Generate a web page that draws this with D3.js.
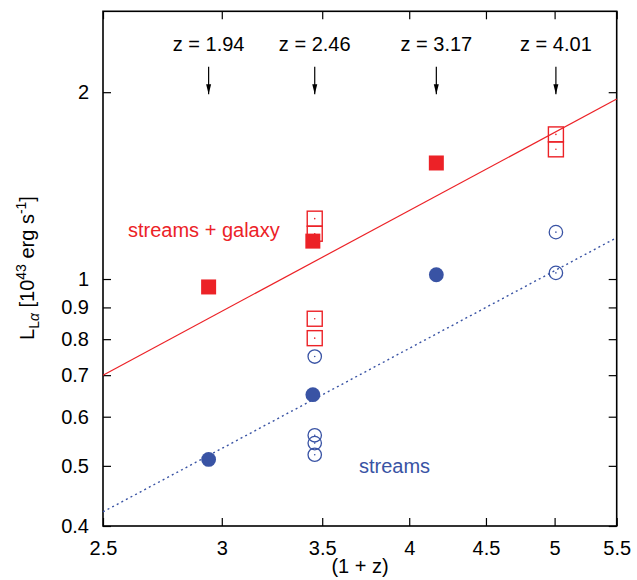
<!DOCTYPE html>
<html>
<head>
<meta charset="utf-8">
<script src="https://cdn.jsdelivr.net/npm/d3@7"></script>
<style>
  html, body { margin: 0; padding: 0; background: #fff; overflow: hidden; }
  svg { display: block; }
  text { font-family: "Liberation Sans", Arial, sans-serif; }
</style>
</head>
<body>
<div id="chart"></div>
<script>
// Data
const xTicks = [2.5, 3, 3.5, 4, 4.5, 5, 5.5];
const yTicks = [0.4, 0.5, 0.6, 0.7, 0.8, 0.9, 1, 2];
const redshifts = [1.94, 2.46, 3.17, 4.01];

const galaxyFilledX = [2.94, 3.45, 4.17];
const galaxyFilledY = [0.971, 1.151, 1.538];
const galaxyOpenX = [3.46, 3.46, 3.46, 3.46, 5.01, 5.01];
const galaxyOpenY = [1.251, 1.183, 0.863, 0.803, 1.710, 1.618];

const streamsFilledX = [2.94, 3.45, 4.17];
const streamsFilledY = [0.512, 0.651, 1.016];
const streamsOpenX = [3.46, 3.46, 3.46, 3.46, 5.01, 5.01];
const streamsOpenY = [0.750, 0.560, 0.544, 0.521, 1.190, 1.023];

const fitX = [2.5, 5.5];
const galaxyFitY = [0.70, 1.95];
const streamsFitY = [0.4215, 1.166];

const red = "#ec2227";
const blue = "#3953a4";

const width = 637, height = 580;
const margin = {top: 11.3, right: 20.3, bottom: 54, left: 103};
const innerWidth = width - margin.left - margin.right;
const innerHeight = height - margin.top - margin.bottom;

const svg = d3.select("#chart")
  .append("svg")
    .attr("width", width)
    .attr("height", height);

const inner = svg.append("g")
  .attr("transform", `translate(${margin.left}, ${margin.top})`);

// Scales (log-log)
const xScale = d3.scaleLog().domain([2.5, 5.5]).range([0, innerWidth]);
const yScale = d3.scaleLog().domain([0.4, 2.7]).range([innerHeight, 0]);

// Axes, ticks pointing inward, mirrored on top and right
const fmt = d => d3.format("~g")(d);
const bottomAxis = d3.axisBottom(xScale).tickValues(xTicks).tickFormat(fmt)
  .tickSize(-8).tickPadding(15);
const topAxis = d3.axisTop(xScale).tickValues(xTicks).tickFormat("").tickSize(-8);
const leftAxis = d3.axisLeft(yScale).tickValues(yTicks).tickFormat(fmt)
  .tickSize(-8).tickPadding(14);
const rightAxis = d3.axisRight(yScale).tickValues(yTicks).tickFormat("").tickSize(-8);

inner.append("g").attr("class", "axis").attr("transform", `translate(0, ${innerHeight})`).call(bottomAxis);
inner.append("g").attr("class", "axis").call(topAxis);
inner.append("g").attr("class", "axis").call(leftAxis);
inner.append("g").attr("class", "axis").attr("transform", `translate(${innerWidth}, 0)`).call(rightAxis);

inner.selectAll(".axis .domain").remove();
inner.selectAll(".axis line").attr("stroke", "#000").attr("stroke-width", 1.2);
inner.selectAll(".axis text")
  .attr("font-size", 20)
  .attr("fill", "#000")
  .attr("font-family", "Liberation Sans, Arial, sans-serif");

// Frame
inner.append("rect")
  .attr("width", innerWidth)
  .attr("height", innerHeight)
  .attr("fill", "none")
  .attr("stroke", "#000")
  .attr("stroke-width", 1.6);

// Fit lines
const line = d3.line().x(d => xScale(d[0])).y(d => yScale(d[1]));
inner.append("path")
  .datum(d3.zip(fitX, galaxyFitY))
  .attr("d", line)
  .attr("fill", "none")
  .attr("stroke", red)
  .attr("stroke-width", 1.2);
inner.append("path")
  .datum(d3.zip(fitX, streamsFitY))
  .attr("d", line)
  .attr("fill", "none")
  .attr("stroke", blue)
  .attr("stroke-width", 1.4)
  .attr("stroke-dasharray", "2,3.2");

// Markers
const sq = 15, rad = 7.4;

// open squares
const galaxyOpen = d3.zip(galaxyOpenX, galaxyOpenY);
inner.selectAll(".sq-open")
  .data(galaxyOpen)
  .join("rect")
    .attr("class", "sq-open")
    .attr("x", d => xScale(d[0]) - sq / 2)
    .attr("y", d => yScale(d[1]) - sq / 2)
    .attr("width", sq)
    .attr("height", sq)
    .attr("fill", "none")
    .attr("stroke", red)
    .attr("stroke-width", 1.4);

// open circles
const streamsOpen = d3.zip(streamsOpenX, streamsOpenY);
inner.selectAll(".ci-open")
  .data(streamsOpen)
  .join("circle")
    .attr("class", "ci-open")
    .attr("cx", d => xScale(d[0]))
    .attr("cy", d => yScale(d[1]))
    .attr("r", rad - 0.7)
    .attr("fill", "none")
    .attr("stroke", blue)
    .attr("stroke-width", 1.3);

// centre dots of open markers
inner.selectAll(".dot-r")
  .data(galaxyOpen)
  .join("circle")
    .attr("class", "dot-r")
    .attr("cx", d => xScale(d[0]))
    .attr("cy", d => yScale(d[1]))
    .attr("r", 0.8)
    .attr("fill", red);
inner.selectAll(".dot-b")
  .data(streamsOpen)
  .join("circle")
    .attr("class", "dot-b")
    .attr("cx", d => xScale(d[0]))
    .attr("cy", d => yScale(d[1]))
    .attr("r", 0.8)
    .attr("fill", blue);

// filled squares
inner.selectAll(".sq-fill")
  .data(d3.zip(galaxyFilledX, galaxyFilledY))
  .join("rect")
    .attr("class", "sq-fill")
    .attr("x", d => xScale(d[0]) - sq / 2)
    .attr("y", d => yScale(d[1]) - sq / 2)
    .attr("width", sq)
    .attr("height", sq)
    .attr("fill", red);

// filled circles
inner.selectAll(".ci-fill")
  .data(d3.zip(streamsFilledX, streamsFilledY))
  .join("circle")
    .attr("class", "ci-fill")
    .attr("cx", d => xScale(d[0]))
    .attr("cy", d => yScale(d[1]))
    .attr("r", rad)
    .attr("fill", blue);

// Redshift arrows
svg.append("defs").append("marker")
    .attr("id", "head")
    .attr("viewBox", "0 0 10 10")
    .attr("refX", 10).attr("refY", 5)
    .attr("markerWidth", 10).attr("markerHeight", 10)
    .attr("markerUnits", "userSpaceOnUse")
    .attr("orient", "auto")
  .append("path")
    .attr("d", "M0,2.5 L10,5 L0,7.5 Z")
    .attr("fill", "#000");

const arrows = inner.selectAll(".zmark")
  .data(redshifts)
  .join("g")
    .attr("class", "zmark")
    .attr("transform", d => `translate(${xScale(1 + d)}, 0)`);
arrows.append("text")
  .attr("y", 39.5)
  .attr("text-anchor", "middle")
  .attr("font-size", 20)
  .text(d => `z = ${d.toFixed(2)}`);
arrows.append("line")
  .attr("y1", 55.5)
  .attr("y2", 83)
  .attr("stroke", "#000")
  .attr("stroke-width", 1.2)
  .attr("marker-end", "url(#head)");

// Series labels
svg.append("text")
  .attr("x", 128)
  .attr("y", 237)
  .attr("font-size", 20)
  .attr("fill", red)
  .text("streams + galaxy");
svg.append("text")
  .attr("x", 359)
  .attr("y", 473)
  .attr("font-size", 20)
  .attr("fill", blue)
  .text("streams");

// Axis titles
svg.append("text")
  .attr("x", 360)
  .attr("y", 573)
  .attr("text-anchor", "middle")
  .attr("font-size", 20)
  .text("(1 + z)");

const yTitle = svg.append("text")
  .attr("transform", "translate(34, 268) rotate(-90)")
  .attr("text-anchor", "middle")
  .attr("font-size", 20);
yTitle.append("tspan").text("L");
yTitle.append("tspan").attr("font-size", 14).attr("dy", 5).text("L");
yTitle.append("tspan").attr("font-size", 14).attr("font-style", "italic").text("α");
yTitle.append("tspan").attr("dy", -5).text(" [10");
yTitle.append("tspan").attr("font-size", 14).attr("dy", -8).text("43");
yTitle.append("tspan").attr("dy", 8).text(" erg s");
yTitle.append("tspan").attr("font-size", 14).attr("dy", -8).text("-1");
yTitle.append("tspan").attr("dy", 8).text("]");
</script>
</body>
</html>
